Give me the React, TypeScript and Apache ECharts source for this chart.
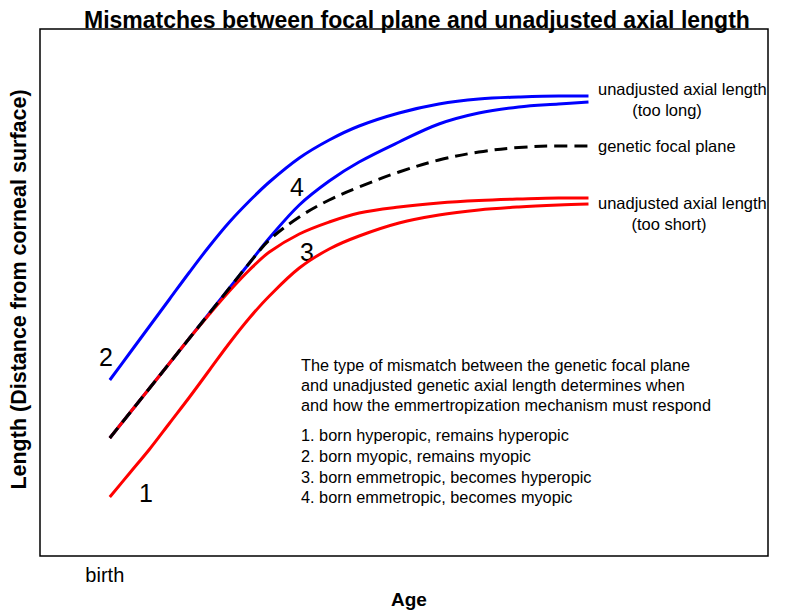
import React, { useEffect, useRef } from "react";
import * as echarts from "echarts";

// Age (arbitrary units, 0 = birth)
const ages = [0, 2, 4, 6, 8, 10, 12, 14, 16, 19, 22, 25, 29, 33, 37, 41, 45, 48];

// Length (distance from corneal surface), arbitrary units
const tooLongMyopic = [17.6, 20.3, 23.0, 25.7, 28.4, 31.0, 33.4, 35.5, 37.4, 39.8, 41.6, 43.0, 44.3, 45.2, 45.7, 45.9, 46.0, 46.0]; // 2
const tooLongEmmetropic = [11.8, 14.3, 16.8, 19.3, 21.8, 24.3, 26.8, 29.3, 31.8, 35.1, 37.5, 39.4, 41.4, 43.2, 44.3, 44.9, 45.2, 45.4]; // 4
const focalPlane = [11.8, 14.3, 16.8, 19.3, 21.8, 24.3, 26.8, 29.3, 31.6, 33.9, 35.6, 36.9, 38.4, 39.6, 40.4, 40.85, 41.0, 41.0];
const tooShortEmmetropic = [11.8, 14.3, 16.8, 19.3, 21.8, 24.2, 26.5, 28.6, 30.4, 32.2, 33.4, 34.3, 34.9, 35.3, 35.55, 35.7, 35.8, 35.8]; // 3
const tooShortHyperopic = [5.9, 8.3, 10.7, 13.3, 15.9, 18.6, 21.3, 23.8, 26.0, 28.8, 30.7, 32.0, 33.3, 34.1, 34.6, 34.9, 35.1, 35.2]; // 1

const xTickValues = [0];
const xTickLabels = ["birth"];

const titleText = "Mismatches between focal plane and unadjusted axial length";
const xName = "Age";
const yName = "Length (Distance from corneal surface)";

const rightLabels = [
  { text: "unadjusted axial length", x: 598, y: 89, align: "left" },
  { text: "(too long)", x: 667, y: 110, align: "center" },
  { text: "genetic focal plane", x: 598, y: 146, align: "left" },
  { text: "unadjusted axial length", x: 598, y: 203, align: "left" },
  { text: "(too short)", x: 669, y: 224, align: "center" },
];

const caseNumbers = [
  { text: "1", x: 146, y: 493 },
  { text: "2", x: 106, y: 357 },
  { text: "3", x: 307, y: 252 },
  { text: "4", x: 297, y: 187 },
];

const noteLines = [
  { text: "The type of mismatch between the genetic focal plane", y: 365 },
  { text: "and unadjusted genetic axial length determines when", y: 385 },
  { text: "and how the emmertropization mechanism must respond", y: 405 },
  { text: "1. born hyperopic, remains hyperopic", y: 435 },
  { text: "2. born myopic, remains myopic", y: 456 },
  { text: "3. born emmetropic, becomes hyperopic", y: 477 },
  { text: "4. born emmetropic, becomes myopic", y: 497 },
];

const FONT = "'Liberation Sans', Arial, Helvetica, sans-serif";
const BLUE = "#0000ff";
const RED = "#ff0000";

const pairs = (ys: number[]) => ages.map((a, i) => [a, ys[i]]);

export default function App() {
  const ref = useRef<HTMLDivElement>(null);
  useEffect(() => {
    if (!ref.current) return;
    const chart = echarts.init(ref.current, undefined, { renderer: "svg" });
    const lineBase = {
      type: "line",
      showSymbol: false,
      symbol: "none",
      smooth: 0.35,
      silent: true,
    };
    const graphics: any[] = [];
    rightLabels.forEach((l) =>
      graphics.push({
        type: "text",
        x: l.x,
        y: l.y,
        style: {
          text: l.text,
          fontFamily: FONT,
          fontSize: 16.5,
          fill: "#000",
          align: l.align,
          verticalAlign: "middle",
        },
      })
    );
    caseNumbers.forEach((n) =>
      graphics.push({
        type: "text",
        x: n.x,
        y: n.y,
        style: {
          text: n.text,
          fontFamily: FONT,
          fontSize: 25,
          fill: "#000",
          align: "center",
          verticalAlign: "middle",
        },
      })
    );
    noteLines.forEach((n) =>
      graphics.push({
        type: "text",
        x: 301,
        y: n.y,
        style: {
          text: n.text,
          fontFamily: FONT,
          fontSize: 16.3,
          fill: "#000",
          align: "left",
          verticalAlign: "middle",
        },
      })
    );
    chart.setOption({
      animation: false,
      backgroundColor: "#fff",
      title: {
        text: titleText,
        left: 79,
        top: 3,
        textStyle: { fontFamily: FONT, fontSize: 23, fontWeight: "bold", color: "#000" },
      },
      grid: {
        left: 38,
        top: 29,
        width: 730,
        height: 527,
        show: true,
        borderColor: "#000",
        borderWidth: 1.5,
        backgroundColor: "transparent",
      },
      xAxis: {
        type: "value",
        min: -7,
        max: 66,
        name: xName,
        nameLocation: "middle",
        nameGap: 32,
        nameTextStyle: { fontFamily: FONT, fontSize: 19, fontWeight: "bold", color: "#000", padding: [0, 0, 0, 10] },
        axisLine: { show: false },
        axisTick: { show: false },
        splitLine: { show: false },
        axisLabel: {
          customValues: xTickValues,
          formatter: (v: number) => xTickLabels[xTickValues.indexOf(v)] ?? "",
          fontFamily: FONT,
          fontSize: 20,
          color: "#000",
          margin: 9,
          padding: [0, 10, 0, 0],
        },
      },
      yAxis: {
        type: "value",
        min: 0,
        max: 52.7,
        name: yName,
        nameLocation: "middle",
        nameRotate: 90,
        nameGap: 10,
        nameTextStyle: { fontFamily: FONT, fontSize: 21.5, fontWeight: "bold", color: "#000", padding: [0, 0, 0, 6] },
        axisLine: { show: false },
        axisTick: { show: false },
        axisLabel: { show: false },
        splitLine: { show: false },
      },
      series: [
        { ...lineBase, name: "2", data: pairs(tooLongMyopic), lineStyle: { color: BLUE, width: 3 } },
        { ...lineBase, name: "4", data: pairs(tooLongEmmetropic), lineStyle: { color: BLUE, width: 3 } },
        { ...lineBase, name: "1", data: pairs(tooShortHyperopic), lineStyle: { color: RED, width: 3 } },
        { ...lineBase, name: "3", data: pairs(tooShortEmmetropic), lineStyle: { color: RED, width: 3 } },
        {
          ...lineBase,
          name: "focal",
          data: pairs(focalPlane),
          lineStyle: { color: "#000", width: 3, type: [13, 7] },
        },
      ],
      graphic: graphics,
    });
    return () => chart.dispose();
  }, []);
  return <div ref={ref} style={{ width: 800, height: 616, position: "absolute", left: 0, top: 0 }} />;
}
